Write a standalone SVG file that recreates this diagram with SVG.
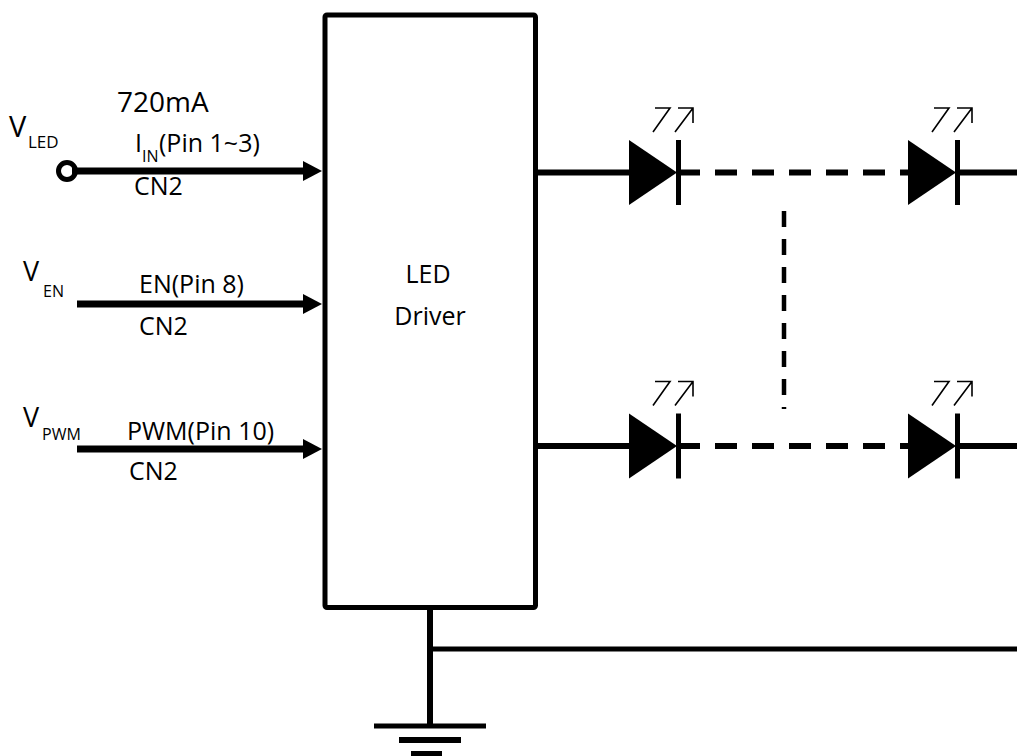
<svg xmlns="http://www.w3.org/2000/svg" width="1017" height="756" viewBox="0 0 1017 756">
<defs>
<style>
text{font-family:"Open Sans","Noto Sans","Liberation Sans",sans-serif;font-weight:400;fill:#000}
.t{font-size:25px}
.v{font-size:27px}
.s{font-size:16px}
.w{stroke:#000;fill:none}
.sig{stroke:#000;stroke-width:7;fill:none}
.head{fill:#000}
.gl{stroke:#000;stroke-width:1.6;fill:none}
</style>
<g id="led">
<polygon points="629,140 629,205 677,172.5" fill="#000"/>
<line x1="678.5" y1="140" x2="678.5" y2="205" stroke="#000" stroke-width="5"/>
<path class="gl" d="M655,108 H670 L653,132 M678,108 H693 V123 M693,108 L675,132"/>
</g>
</defs>
<rect width="1017" height="756" fill="#fff"/>

<g id="driver">
<rect x="325" y="15" width="210.5" height="592.5" rx="2" fill="#fff" stroke="#000" stroke-width="5"/>
<text class="t" x="428" y="283" text-anchor="middle">LED</text>
<text class="t" x="430" y="325" text-anchor="middle">Driver</text>
</g>

<g id="vled">
<circle cx="67" cy="171" r="8.5" fill="#fff" stroke="#000" stroke-width="5"/>
<text style="font-size:29px" x="9" y="137">V</text>
<text style="font-size:17px" x="28" y="148">LED</text>
<text style="font-size:28px" x="117" y="112">720mA</text>
<text class="t" x="135" y="152">I</text>
<text class="s" x="142" y="162">IN</text>
<text class="t" x="159" y="152">(Pin 1~3)</text>
<text class="t" x="134" y="195">CN2</text>
</g>

<g id="ven">
<text class="v" x="23" y="281">V</text>
<text class="s" x="43" y="297">EN</text>
<text class="t" x="139" y="293">EN(Pin 8)</text>
<text class="t" x="139" y="335">CN2</text>
</g>

<g id="vpwm">
<text class="v" x="23" y="427">V</text>
<text class="s" x="42" y="440">PWM</text>
<text class="t" x="127" y="440">PWM(Pin 10)</text>
<text class="t" x="129" y="480">CN2</text>
</g>

<g id="leds">
<use href="#led"/>
<use href="#led" x="279"/>
<use href="#led" y="273.5"/>
<use href="#led" x="279" y="273.5"/>
</g>

<g id="ground">
<line x1="374" y1="726" x2="486" y2="726" stroke="#000" stroke-width="5"/>
<line x1="399" y1="740" x2="461" y2="740" stroke="#000" stroke-width="6"/>
<line x1="411" y1="753.5" x2="442" y2="753.5" stroke="#000" stroke-width="5"/>
</g>

<g id="connectors">
<line class="sig" x1="72" y1="171" x2="305" y2="171"/>
<polygon class="head" points="303,161 322,171 303,181"/>
<line class="sig" x1="77" y1="304" x2="305" y2="304"/>
<polygon class="head" points="303,294 322,304 303,314"/>
<line class="sig" x1="77" y1="449" x2="305" y2="449"/>
<polygon class="head" points="303,439 322,449 303,459"/>

<line class="w" x1="538" y1="172.5" x2="630" y2="172.5" stroke-width="6"/>
<line class="w" x1="678" y1="172.5" x2="908" y2="172.5" stroke-width="6" stroke-dasharray="22 15"/>
<line class="w" x1="957" y1="172.5" x2="1017" y2="172.5" stroke-width="6"/>

<line class="w" x1="538" y1="446" x2="630" y2="446" stroke-width="6"/>
<line class="w" x1="678" y1="446" x2="908" y2="446" stroke-width="6" stroke-dasharray="22 15"/>
<line class="w" x1="957" y1="446" x2="1017" y2="446" stroke-width="6"/>

<line class="w" x1="784" y1="211" x2="784" y2="409" stroke-width="4.5" stroke-dasharray="16 12"/>

<line class="w" x1="430" y1="608" x2="430" y2="726" stroke-width="6"/>
<line class="w" x1="430" y1="649" x2="1017" y2="649" stroke-width="5"/>
</g>
</svg>
